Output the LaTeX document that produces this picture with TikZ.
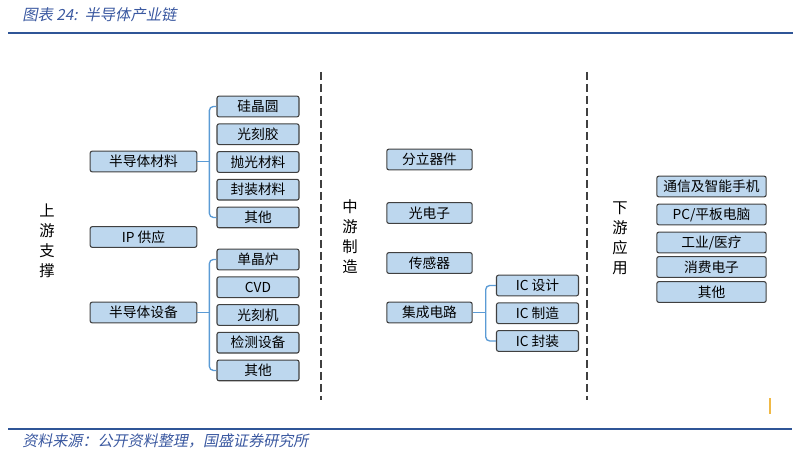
\documentclass[tikz,border=0pt]{standalone}
\usepackage{fontspec}
\setmainfont{Noto Sans CJK SC}
\newfontfamily\titlefont[FakeSlant=0.2]{Noto Sans CJK SC}
\usetikzlibrary{positioning}
\definecolor{boxfill}{RGB}{189,215,238}
\definecolor{boxline}{RGB}{64,64,64}
\definecolor{linkblue}{RGB}{91,155,213}
\definecolor{ruleblue}{RGB}{47,85,151}
\definecolor{titleblue}{RGB}{58,88,160}
\definecolor{tickorange}{RGB}{240,185,70}

\begin{document}
\begin{tikzpicture}[x=0.75pt, y=-0.75pt,
    pbox/.style={fill=boxfill, draw=boxline, line width=0.8pt, rounded corners=1.5pt,
      minimum height=15.5pt, inner sep=0pt, font=\fontsize{10.3}{12}\selectfont},
    mainbox/.style={pbox, minimum width=80pt},
    subbox/.style={pbox, minimum width=61.5pt},
    midbox/.style={pbox, minimum width=64pt},
    downbox/.style={pbox, minimum width=82pt},
    link/.style={draw=linkblue, line width=1pt, rounded corners=3pt},
    stage/.style={align=center, font=\fontsize{11.5}{15}\selectfont},
    divider/.style={draw=black!75, line width=1.6pt, dash pattern=on 6pt off 3pt},
    rule/.style={draw=ruleblue, line width=1.5pt},
    note/.style={anchor=west, inner sep=0pt, text=titleblue, font=\titlefont\fontsize{11.5}{13}\selectfont},
    node distance=4.5pt,
  ]
    \useasboundingbox (0,0) rectangle (800,470);

    % header and footer
    \node[note] (title) at (22,15) {图表 24:\ \ 半导体产业链};
    \draw[rule] (8,33) -- (793,33);
    \draw[rule] (8,429) -- (792,429);
    \node[note, font=\titlefont\fontsize{11.3}{13}\selectfont] (source) at (22,441) {资料来源：公开资料整理，国盛证券研究所};
    \draw[tickorange, line width=0.8pt] (770,398) -- (770,414);

    % stage dividers
    \draw[divider] (321,72) -- (321,400);
    \draw[divider] (587,72) -- (587,400);

    % upstream
    \node[stage] (up) at (47,241) {上\\游\\支\\撑};
    \node[mainbox] (mat) at (143.5,161.5) {半导体材料};
    \node[mainbox] (ip) at (143.5,237) {IP 供应};
    \node[mainbox] (equip) at (143.5,312.5) {半导体设备};

    \node[subbox] (wafer) at (258,106.5) {硅晶圆};
    \node[subbox, below=of wafer] (resist) {光刻胶};
    \node[subbox, below=of resist] (polish) {抛光材料};
    \node[subbox, below=of polish] (pack) {封装材料};
    \node[subbox, below=of pack] (matother) {其他};

    \node[subbox] (furnace) at (258,259.5) {单晶炉};
    \node[subbox, below=of furnace] (cvd) {CVD};
    \node[subbox, below=of cvd] (litho) {光刻机};
    \node[subbox, below=of litho] (inspect) {检测设备};
    \node[subbox, below=of inspect] (equipother) {其他};

    \draw[link] (mat.east) -- ++(12,0) coordinate (matfork);
    \draw[link] (wafer.west) -| (matfork) |- (matother.west);
    \draw[link] (equip.east) -- ++(12,0) coordinate (equipfork);
    \draw[link] (furnace.west) -| (equipfork) |- (equipother.west);

    % midstream
    \node[stage] (mid) at (350,237) {中\\游\\制\\造};
    \node[midbox] (discrete) at (429.5,159.5) {分立器件};
    \node[midbox] (opto) at (429.5,213) {光电子};
    \node[midbox] (sensor) at (429.5,263) {传感器};
    \node[midbox] (ic) at (429.5,312.5) {集成电路};

    \node[subbox] (icdesign) at (537.5,285.5) {IC 设计};
    \node[subbox, below=of icdesign] (icfab) {IC 制造};
    \node[subbox, below=of icfab] (icpack) {IC 封装};

    \draw[link] (ic.east) -- ++(13,0) coordinate (icfork);
    \draw[link] (icdesign.west) -| (icfork) |- (icpack.west);

    % downstream
    \node[stage] (down) at (620,238) {下\\游\\应\\用};
    \node[downbox] (phone) at (711.5,186.5) {通信及智能手机};
    \node[downbox] (pc) at (711.5,214.5) {PC/平板电脑};
    \node[downbox] (medical) at (711.5,242.5) {工业/医疗};
    \node[downbox] (consumer) at (711.5,267) {消费电子};
    \node[downbox] (downother) at (711.5,292) {其他};
  \end{tikzpicture}
\end{document}
